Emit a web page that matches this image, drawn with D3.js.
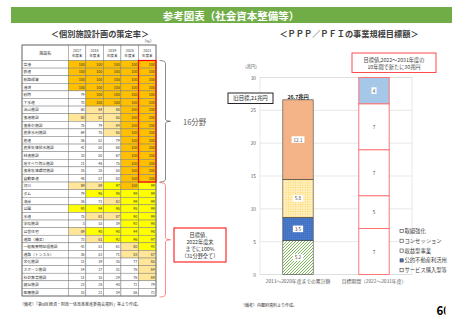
<!DOCTYPE html>
<html>
<head>
<meta charset="utf-8">
<script src="https://cdn.jsdelivr.net/npm/d3@7"></script>
<style>
body { margin: 0; background: #fff; }
svg { display: block; font-family: "Noto Sans CJK JP", "Noto Sans", sans-serif; }
</style>
</head>
<body>
<svg id="page" width="462" height="320"></svg>
<script>
// ---- table data (個別施設計画の策定率, %) ----
const facilities = ["空港", "鉄道", "航路標識", "港湾", "砂防", "下水道", "治山施設", "漁港施設",
    "漁業の施設", "農業水利施設", "農道", "農業集落排水施設", "林道施設", "地すべり防止施設",
    "漁業集落環境施設", "自動車道", "河川", "ダム", "海岸", "公園", "水道", "学校施設", "公営住宅",
    "道路（橋梁）", "一般廃棄物処理施設", "道路（トンネル）", "文化施設", "スポーツ施設",
    "社会教育施設", "福祉施設", "医療施設"];
const years = ["2017", "2018", "2019", "2020", "2021"];
const rate2017 = [100, 100, 100, 100, 79, 70, 60, 80, 75, 69, 36, 42, 33, 21, 18, 48, 89, 79, 38, 93, 75, 3, 89, 73, 42, 36, 13, 14, 11, 23, 10];
const rate2018 = [100, 100, 100, 100, 100, 100, 84, 82, 79, 75, 52, 50, 50, 48, 25, 57, 89, 95, 71, 94, 81, 15, 90, 81, 51, 53, 19, 17, 15, 28, 21];
const rate2019 = [100, 100, 100, 100, 100, 100, 88, 85, 84, 85, 79, 68, 67, 75, 50, 63, 97, 98, 82, 95, 87, 39, 90, 92, 61, 71, 35, 31, 29, 40, 34];
const rate2020 = [100, 100, 100, 100, 100, 100, 100, 100, 100, 100, 100, 100, 100, 100, 100, 100, 100, 99, 99, 95, 90, 92, 94, 96, 80, 83, 77, 76, 76, 72, 56];
const rate2021 = [100, 100, 100, 100, 100, 100, 100, 100, 100, 100, 100, 100, 100, 100, 100, 100, 99, 99, 99, 99, 99, 98, 98, 97, 91, 87, 85, 84, 84, 79, 72];
const rates = [rate2017, rate2018, rate2019, rate2020, rate2021];

// ---- stacked bar data (PPP/PFI, 兆円) ----
const periods = ["2013～2020年度までの累計額", "目標期間（2022～2031年度）"];
const seriesNames = ["サービス購入型等", "公的不動産利活用", "収益型事業", "コンセッション", "取組強化"];
const serviceVals = [5.2, 7];
const publicVals = [3.5, 5];
const revenueVals = [5.8, 7];
const concessionVals = [12.1, 7];
const strengthenVals = [0, 4];
const seriesVals = [serviceVals, publicVals, revenueVals, concessionVals, strengthenVals];
const yTicks = [0, 5, 10, 15, 20, 25, 30];

const svg = d3.select("#page");
const defs = svg.append("defs");

// patterns
function pattern(id, size, bg, draw) {
    const p = defs.append("pattern").attr("id", id).attr("patternUnits", "userSpaceOnUse")
        .attr("width", size).attr("height", size);
    p.append("rect").attr("width", size).attr("height", size).attr("fill", bg);
    draw(p);
}
pattern("pGreen", 3, "#fff", p => p.append("path").attr("d", "M0,3L3,0M-1,1L1,-1M2,4L4,2")
    .attr("stroke", "#70AD47").attr("stroke-width", 0.9));
pattern("pBlue", 2, "#4472C4", p => p.append("rect").attr("width", 1).attr("height", 1).attr("fill", "#4F7ECB"));
pattern("pYellow", 2.4, "#FFF2CC", p => p.append("path").attr("d", "M0,0H2.4M0,0V2.4")
    .attr("stroke", "#FFD966").attr("stroke-width", 0.9));
pattern("pOrange", 2, "#F4B183", p => p.append("circle").attr("cx", 1).attr("cy", 1).attr("r", 0.4).attr("fill", "#F8CBAD"));
pattern("pLight", 2, "#9DC3E6", p => p.append("path").attr("d", "M0,1H2").attr("stroke", "#BDD7EE").attr("stroke-width", 0.5));
const seriesFill = ["url(#pGreen)", "url(#pBlue)", "url(#pYellow)", "url(#pOrange)", "url(#pLight)"];

// ---- header ----
svg.append("rect").attr("x", 11).attr("y", 7).attr("width", 441).attr("height", 16).attr("fill", "#70AD47");
svg.append("text").attr("x", 231).attr("y", 15.5).attr("text-anchor", "middle").attr("dominant-baseline", "central")
    .attr("fill", "#fff").attr("font-size", 10.5).attr("font-weight", "bold").text("参考図表（社会資本整備等）");
svg.append("text").attr("x", 100).attr("y", 32.5).attr("text-anchor", "middle").attr("dominant-baseline", "central")
    .attr("fill", "#404040").attr("font-size", 8.2).attr("font-weight", "bold").text("＜個別施設計画の策定率＞");
svg.append("text").attr("x", 349).attr("y", 32.5).attr("text-anchor", "middle").attr("dominant-baseline", "central")
    .attr("fill", "#404040").attr("font-size", 8.2).attr("font-weight", "bold").text("＜ＰＰＰ／ＰＦＩの事業規模目標額＞");

// ---- table ----
const tx = d3.scaleBand().domain(years).range([68.3, 156]);
const ty = d3.scaleBand().domain(facilities).range([60.5, 296]);
const nameX0 = 22;
const cellFill = v => v === 100 ? "#FFC000" : v >= 90 ? "#FFFF00" : v >= 80 ? "#FFE699" : "#fff";
const table = svg.append("g");

svg.append("text").attr("x", 154).attr("y", 41).attr("text-anchor", "end").attr("dominant-baseline", "central")
    .attr("font-size", 4).attr("fill", "#404040").text("（%）");

table.append("rect").attr("x", nameX0).attr("y", 45).attr("width", tx.range()[0] - nameX0).attr("height", 15.5)
    .attr("fill", "#fff").attr("stroke", "#7f7f7f").attr("stroke-width", 0.5);
table.append("text").attr("x", (nameX0 + tx.range()[0]) / 2).attr("y", 52.7).attr("text-anchor", "middle")
    .attr("dominant-baseline", "central").attr("font-size", 4).attr("fill", "#333").text("施設名");
years.forEach(yr => {
    table.append("rect").attr("x", tx(yr)).attr("y", 45).attr("width", tx.bandwidth()).attr("height", 15.5)
        .attr("fill", "#fff").attr("stroke", "#7f7f7f").attr("stroke-width", 0.5);
    table.append("text").attr("x", tx(yr) + tx.bandwidth() / 2).attr("y", 50.3).attr("text-anchor", "middle")
        .attr("dominant-baseline", "central").attr("font-size", 3.6).attr("fill", "#333").text(yr);
    table.append("text").attr("x", tx(yr) + tx.bandwidth() / 2).attr("y", 55.3).attr("text-anchor", "middle")
        .attr("dominant-baseline", "central").attr("font-size", 3.6).attr("fill", "#333").text("年度末");
});

facilities.forEach((f, i) => {
    table.append("rect").attr("x", nameX0).attr("y", ty(f)).attr("width", tx.range()[0] - nameX0)
        .attr("height", ty.bandwidth()).attr("fill", "#fff").attr("stroke", "#7f7f7f").attr("stroke-width", 0.5);
    table.append("text").attr("x", nameX0 + 1.5).attr("y", ty(f) + ty.bandwidth() / 2).attr("dominant-baseline", "central")
        .attr("font-size", 3.8).attr("fill", "#333").text(f);
    years.forEach((yr, j) => {
        const v = rates[j][i];
        table.append("rect").attr("x", tx(yr)).attr("y", ty(f)).attr("width", tx.bandwidth()).attr("height", ty.bandwidth())
            .attr("fill", cellFill(v)).attr("stroke", "#7f7f7f").attr("stroke-width", 0.5);
        table.append("text").attr("x", tx(yr) + tx.bandwidth() - 1.2).attr("y", ty(f) + ty.bandwidth() / 2)
            .attr("text-anchor", "end").attr("dominant-baseline", "central").attr("font-size", 3.6).attr("fill", "#333").text(v);
    });
});
table.append("rect").attr("x", nameX0).attr("y", 45).attr("width", 156 - nameX0).attr("height", 296 - 45)
    .attr("fill", "none").attr("stroke", "#595959").attr("stroke-width", 0.7);

// red frame on 2021 column for 16 fields
const top16 = ty(facilities[0]), bot16 = ty(facilities[15]) + ty.bandwidth();
svg.append("rect").attr("x", tx("2021")).attr("y", top16).attr("width", tx.bandwidth()).attr("height", bot16 - top16)
    .attr("fill", "none").attr("stroke", "#FF0000").attr("stroke-width", 1.2);

// braces
function brace(y0, y1, color) {
    const xm = 165.5, ym = (y0 + y1) / 2;
    const p = d3.path();
    p.moveTo(159.5, y0); p.quadraticCurveTo(xm, y0, xm, y0 + 3);
    p.lineTo(xm, ym - 2); p.quadraticCurveTo(xm, ym, 170.5, ym);
    p.quadraticCurveTo(xm, ym, xm, ym + 2);
    p.lineTo(xm, y1 - 3); p.quadraticCurveTo(xm, y1, 159.5, y1);
    svg.append("path").attr("d", p.toString()).attr("fill", "none").attr("stroke", color).attr("stroke-width", 0.7);
}
brace(top16, bot16, "#595959");
brace(bot16 + 0.5, ty(facilities[30]) + ty.bandwidth() + 1, "#FF5B5B");
svg.append("text").attr("x", 183).attr("y", (top16 + bot16) / 2).attr("dominant-baseline", "central")
    .attr("font-size", 7.5).attr("fill", "#595959").text("16分野");

svg.append("rect").attr("x", 174).attr("y", 228).attr("width", 52).attr("height", 34)
    .attr("fill", "#fff").attr("stroke", "#FF0000").attr("stroke-width", 1);
["目標値、", "2022年度末", "までに100%", "（31分野全て）"].forEach((t, k) => {
    svg.append("text").attr("x", 200).attr("y", 234 + k * 7.3).attr("text-anchor", "middle").attr("dominant-baseline", "central")
        .attr("font-size", 5.2).attr("fill", "#333").text(t);
});

svg.append("text").attr("x", 20).attr("y", 304).attr("dominant-baseline", "central").attr("font-size", 4)
    .attr("fill", "#333").text("（備考）「第8回 経済・財政一体改革推進委員会資料」等より作成。");

// ---- stacked bar chart ----
const x = d3.scaleBand().domain(periods).range([260, 412]).padding(0);
const y = d3.scaleLinear().domain([0, 30]).range([274.5, 77.5]);
const barW = x.bandwidth() * 0.4;
const chart = svg.append("g");

chart.append("g").selectAll("line").data(yTicks).join("line")
    .attr("x1", x.range()[0]).attr("x2", x.range()[1]).attr("y1", d => y(d)).attr("y2", d => y(d))
    .attr("stroke", "#D9D9D9").attr("stroke-width", 0.6);
chart.append("rect").attr("x", x.range()[0]).attr("y", y(30)).attr("width", x.range()[1] - x.range()[0])
    .attr("height", y(0) - y(30)).attr("fill", "none").attr("stroke", "#D9D9D9").attr("stroke-width", 0.6);

const yAxis = chart.append("g").attr("transform", `translate(${x.range()[0] - 4},0)`)
    .call(d3.axisLeft(y).tickValues(yTicks).tickSize(0).tickPadding(0));
yAxis.select(".domain").remove();
yAxis.selectAll("text").attr("font-size", 4.8).attr("fill", "#595959").attr("font-family", "Noto Sans CJK JP");

const xAxis = chart.append("g").attr("transform", `translate(0,${y(0) + 8})`)
    .call(d3.axisBottom(x).tickSize(0).tickPadding(0));
xAxis.select(".domain").remove();
xAxis.selectAll("text").attr("font-size", 4.8).attr("fill", "#595959").attr("font-family", "Noto Sans CJK JP").attr("dy", "0");

chart.append("text").attr("x", 251).attr("y", 66).attr("text-anchor", "middle").attr("dominant-baseline", "central")
    .attr("font-size", 4.3).attr("fill", "#595959").text("（兆円）");

const stackRows = periods.map((p, i) => {
    const row = { period: p };
    seriesNames.forEach((s, k) => { row[s] = seriesVals[k][i]; });
    return row;
});
const stacked = d3.stack().keys(seriesNames)(stackRows);

stacked.forEach((layer, k) => {
    layer.forEach((seg, i) => {
        const v = seriesVals[k][i];
        if (v <= 0) return;
        const cx = x(periods[i]) + x.bandwidth() / 2;
        const target = i === 1 && k < 4;
        chart.append("rect").attr("x", cx - barW / 2).attr("y", y(seg[1])).attr("width", barW)
            .attr("height", y(seg[0]) - y(seg[1]))
            .attr("fill", target ? "#fff" : seriesFill[k])
            .attr("stroke", i === 1 ? "#FF6B6B" : "#404040").attr("stroke-width", i === 1 ? 0.9 : 0.6);
        const lbl = String(v);
        const ly = y((seg[0] + seg[1]) / 2);
        const bw = lbl.length * 2.6 + 2.5;
        chart.append("rect").attr("x", cx - bw / 2).attr("y", ly - 3.3).attr("width", bw).attr("height", 6.6).attr("fill", "#fff");
        chart.append("text").attr("x", cx).attr("y", ly).attr("text-anchor", "middle").attr("dominant-baseline", "central")
            .attr("font-size", 4.6).attr("fill", "#404040").text(lbl);
    });
});

const total1 = d3.sum(seriesVals, s => s[0]);
chart.append("text").attr("x", x(periods[0]) + x.bandwidth() / 2).attr("y", y(total1) - 3).attr("text-anchor", "middle")
    .attr("dominant-baseline", "central").attr("font-size", 5.2).attr("font-weight", "bold").attr("fill", "#262626")
    .text("26.7兆円");

chart.append("rect").attr("x", 228).attr("y", 93).attr("width", 45).attr("height", 10.5)
    .attr("fill", "#fff").attr("stroke", "#262626").attr("stroke-width", 1);
chart.append("text").attr("x", 250.5).attr("y", 98.3).attr("text-anchor", "middle").attr("dominant-baseline", "central")
    .attr("font-size", 5.4).attr("fill", "#262626").text("旧目標,21兆円");

chart.append("rect").attr("x", 352).attr("y", 53).attr("width", 84).attr("height", 19.5)
    .attr("fill", "#fff").attr("stroke", "#FF4B4B").attr("stroke-width", 1);
chart.append("text").attr("x", 394).attr("y", 59.5).attr("text-anchor", "middle").attr("dominant-baseline", "central")
    .attr("font-size", 5.2).attr("fill", "#404040").text("目標値,2022～2031年度の");
chart.append("text").attr("x", 394).attr("y", 66.3).attr("text-anchor", "middle").attr("dominant-baseline", "central")
    .attr("font-size", 5.2).attr("fill", "#404040").text("10年間で新たに30兆円");

// legend (reverse of stacking order)
const legend = chart.append("g");
seriesNames.slice().reverse().forEach((name, k) => {
    const ly = 231 + k * 9.8;
    const idx = seriesNames.length - 1 - k;
    legend.append("rect").attr("x", 400).attr("y", ly - 1.6).attr("width", 3.2).attr("height", 3.2)
        .attr("fill", idx === 1 ? "#4472C4" : "#fff").attr("stroke", "#404040").attr("stroke-width", 0.6);
    legend.append("text").attr("x", 404.5).attr("y", ly).attr("dominant-baseline", "central")
        .attr("font-size", 5.3).attr("fill", "#404040").text(name);
});

svg.append("text").attr("x", 241).attr("y", 304.5).attr("dominant-baseline", "central").attr("font-size", 4)
    .attr("fill", "#333").text("（備考）内閣府資料より作成。");

// page number (clipped at right as in the scan)
defs.append("clipPath").attr("id", "pn").append("rect").attr("x", 430).attr("y", 295).attr("width", 15.5).attr("height", 25);
svg.append("text").attr("x", 436.5).attr("y", 315).attr("font-size", 11.5).attr("font-weight", "bold")
    .attr("fill", "#000").attr("clip-path", "url(#pn)").text("60");
</script>
</body>
</html>
